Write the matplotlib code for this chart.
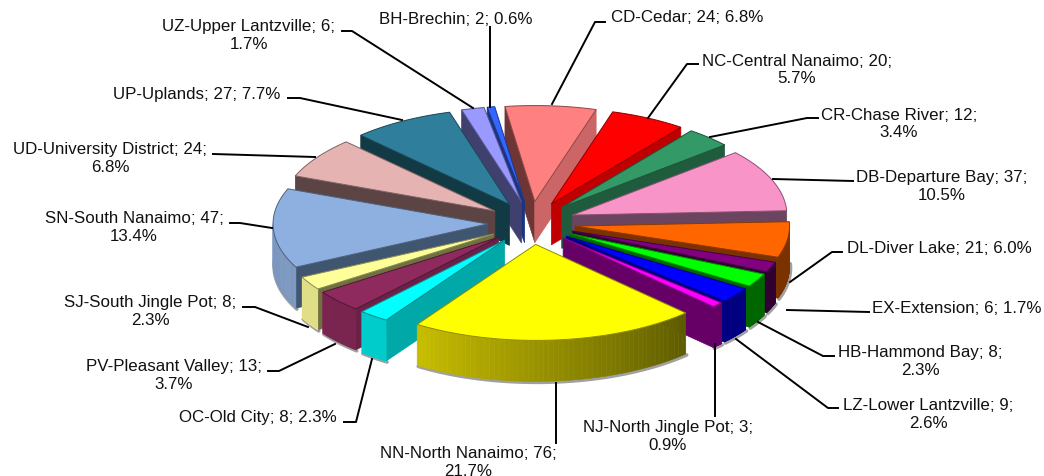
import numpy as np
import matplotlib
matplotlib.use('Agg')
import matplotlib.pyplot as plt

plt.rcParams['font.family'] = ['Liberation Sans', 'DejaVu Sans']

# data, clockwise from the top
names = ['CD-Cedar', 'NC-Central Nanaimo', 'CR-Chase River', 'DB-Departure Bay', 'DL-Diver Lake',
         'EX-Extension', 'HB-Hammond Bay', 'LZ-Lower Lantzville', 'NJ-North Jingle Pot',
         'NN-North Nanaimo', 'OC-Old City', 'PV-Pleasant Valley', 'SJ-South Jingle Pot',
         'SN-South Nanaimo', 'UD-University District', 'UP-Uplands', 'UZ-Upper Lantzville', 'BH-Brechin']
counts = [24, 20, 12, 37, 21, 6, 8, 9, 3, 76, 8, 13, 8, 47, 24, 27, 6, 2]
percents = ['6.8%', '5.7%', '3.4%', '10.5%', '6.0%', '1.7%', '2.3%', '2.6%', '0.9%',
            '21.7%', '2.3%', '3.7%', '2.3%', '13.4%', '6.8%', '7.7%', '1.7%', '0.6%']

top_cols = ['#ff8080', '#ff0000', '#339966', '#f994c8', '#ff6600', '#800080', '#00ff00', '#0000ff', '#ff00ff',
            '#ffff00', '#00ffff', '#8f2a5e', '#ffff99', '#8db0e0', '#e6b3b3', '#2f7f9c', '#9999ff', '#3366ff']
# wall colours: radial side, outer side
rad_cols = ['#6e3535', '#c00000', '#1f5c3d', '#6b4560', '#7a3300', '#300030', '#006600', '#000080', '#660066',
            '#807800', '#00a8a8', '#6b2048', '#707040', '#3f5570', '#5c4444', '#123a44', '#40406f', '#1a3380']
out_cols = ['#cc6666', '#c00000', '#1f5c3d', '#6b4560', '#7a3300', '#300030', '#006600', '#000080', '#660066',
            '#807800', '#00cccc', '#7a2450', '#e0df88', '#7b97c0', '#5c4444', '#123a44', '#40406f', '#1a3380']

# label layout: text centre x, first line y, leader points
label_pos = [(687, 18), (797, 61), (899, 115), (942, 178), (939, 249), (957, 309), (920, 353), (928, 406), (668, 428),
             (468, 454), (258, 418), (174, 367), (150, 303), (134, 219), (110, 150), (197, 95), (249, 27), (456, 20)]
two_line = [False, True, True, True, False, False, True, True, True,
            True, False, True, True, True, True, False, True, False]
leaders = [[(552, 105), (595, 23), (605, 23)], [(648, 119), (687, 65), (698, 65)], [(710, 138), (807, 119), (818, 119)],
           [(773, 180), (853, 182)], [(790, 283), (832, 253), (842, 253)], [(787, 311), (869, 313)],
           [(758, 323), (823, 357), (834, 357)], [(736, 340), (828, 409), (838, 409)], [(715, 345), (715, 417)],
           [(556, 384), (556, 444)], [(372, 360), (356, 423), (344, 423)], [(335, 345), (279, 372), (268, 372)],
           [(308, 328), (255, 308), (243, 308)], [(272, 229), (240, 224), (230, 224)], [(315, 158), (213, 155)],
           [(402, 121), (300, 99), (288, 99)], [(473, 109), (352, 32), (342, 32)], [(490, 108), (490, 28)]]

cx, cy = 531.5, 224
rx, ry = 214.5, 96
ex, ey = 44, 21.5
depth = 41
start = -8.0

fig = plt.figure(figsize=(10.44, 4.77), dpi=100)
ax = fig.add_axes([0, 0, 1, 1])
ax.set_xlim(0, 1044)
ax.set_ylim(477, 0)
ax.axis('off')

edges = start + np.cumsum([0] + counts) / sum(counts) * 360.0


def slice_points(a0, a1):
    t = np.radians(np.linspace(a0, a1, 60))
    return np.sin(t), -np.cos(t)


def darker(col, f):
    return tuple(c * f for c in matplotlib.colors.to_rgb(col))


order = sorted(range(len(counts)), key=lambda i: abs(((edges[i] + edges[i + 1]) / 2 + 180) % 360 - 180))
for i in order:
    a0, a1 = edges[i], edges[i + 1]
    mid = np.radians((a0 + a1) / 2)
    ax0 = cx + ex * np.sin(mid)
    ay0 = cy - ey * np.cos(mid)
    sx, sy = slice_points(a0, a1)
    px = ax0 + rx * sx
    py = ay0 + ry * sy
    z = 3 + order.index(i) * 0.01

    # grey shadow under the walls
    vis = sy > -0.05
    if vis.any():
        ax.plot(px[vis] + 1, py[vis] + depth + 1, color='#a0a0a0', lw=2.5, zorder=z, solid_capstyle='round')

    # radial walls that face the viewer
    for a, idx in ((a0, 0), (a1, -1)):
        th = np.radians(a)
        nrm = (np.sin(th) if idx == -1 else -np.sin(th))
        if nrm > -0.02:
            ax.fill([ax0, px[idx], px[idx], ax0], [ay0, py[idx], py[idx] + depth, ay0 + depth],
                    color=rad_cols[i] if not (i == 0 and idx == -1) else out_cols[i], lw=0.5, zorder=z)

    # outer wall, the big yellow one gets a gradient
    for k in range(len(px) - 1):
        if sy[k] < 0 and sy[k + 1] < 0:
            continue
        col = out_cols[i]
        if names[i].startswith('NN'):
            f = k / (len(px) - 2)
            col = tuple(np.array([0.37, 0.36, 0.0]) * (1 - f) + np.array([0.78, 0.74, 0.0]) * f)
        ax.fill([px[k], px[k + 1], px[k + 1], px[k]],
                [py[k], py[k + 1], py[k + 1] + depth, py[k] + depth], color=col, lw=0.4, zorder=z)

    # top face
    ax.fill(np.r_[ax0, px], np.r_[ay0, py], facecolor=top_cols[i], edgecolor=darker(top_cols[i], 0.55),
            lw=0.7, zorder=z + 0.001)

for i in range(len(names)):
    x, y = label_pos[i]
    if two_line[i]:
        ax.text(x, y, f'{names[i]}; {counts[i]};', ha='center', va='center', fontsize=12.2, color='#111111', zorder=9)
        ax.text(x, y + 17.5, percents[i], ha='center', va='center', fontsize=12.2, color='#111111', zorder=9)
    else:
        ax.text(x, y, f'{names[i]}; {counts[i]}; {percents[i]}', ha='center', va='center', fontsize=12.2,
                color='#111111', zorder=9)
    lx, ly = zip(*leaders[i])
    ax.plot(lx, ly, color='black', lw=1.4, zorder=8)

fig.savefig('out.png', dpi=100)
